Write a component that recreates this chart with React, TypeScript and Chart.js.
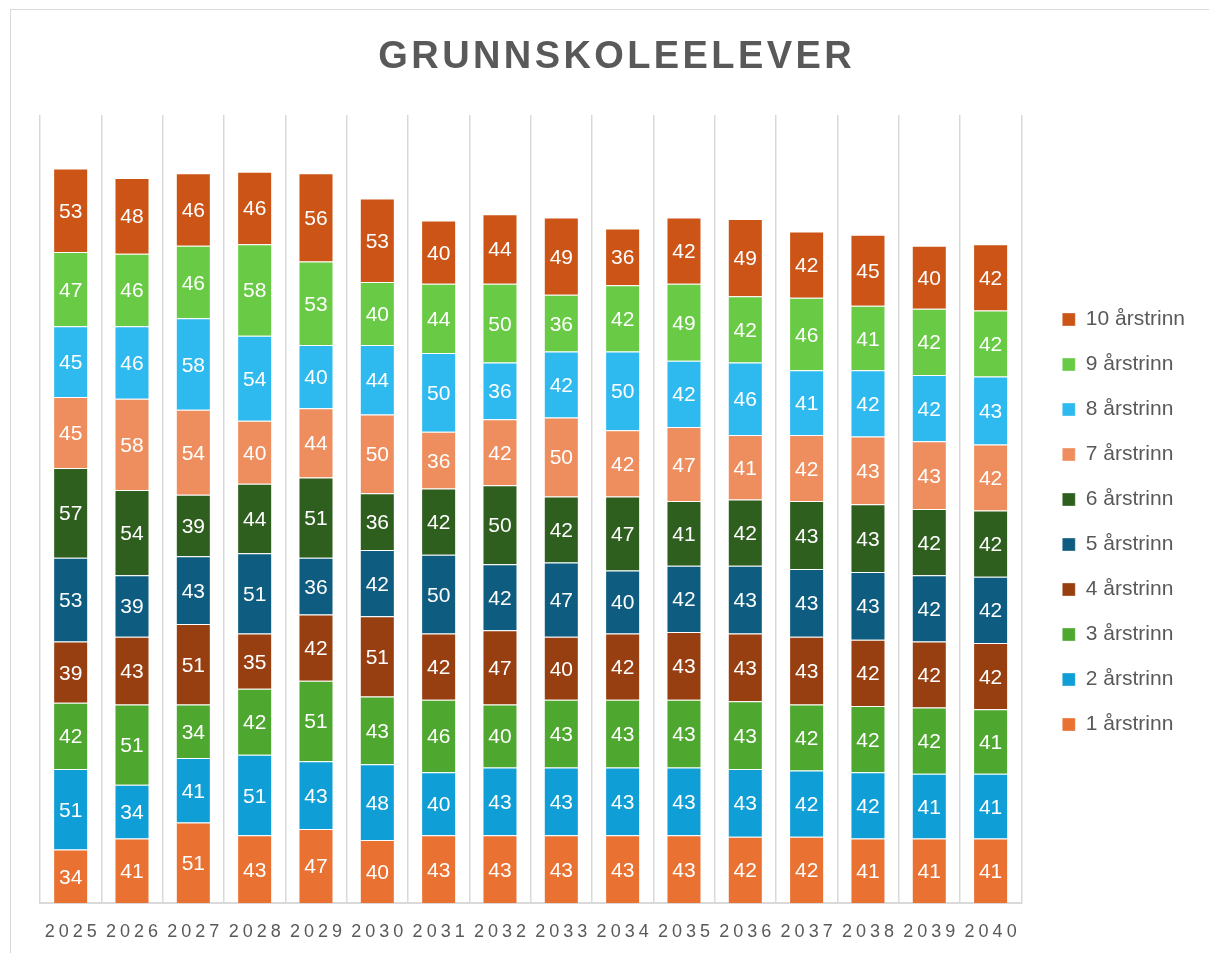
import React, { useEffect, useRef } from "react";
import { Chart, registerables } from "chart.js";

Chart.register(...registerables);

const years = ["2025","2026","2027","2028","2029","2030","2031","2032","2033","2034","2035","2036","2037","2038","2039","2040"];
const seriesNames = ["1 årstrinn","2 årstrinn","3 årstrinn","4 årstrinn","5 årstrinn","6 årstrinn","7 årstrinn","8 årstrinn","9 årstrinn","10 årstrinn"];
const trinn1 = [34,41,51,43,47,40,43,43,43,43,43,42,42,41,41,41];
const trinn2 = [51,34,41,51,43,48,40,43,43,43,43,43,42,42,41,41];
const trinn3 = [42,51,34,42,51,43,46,40,43,43,43,43,42,42,42,41];
const trinn4 = [39,43,51,35,42,51,42,47,40,42,43,43,43,42,42,42];
const trinn5 = [53,39,43,51,36,42,50,42,47,40,42,43,43,43,42,42];
const trinn6 = [57,54,39,44,51,36,42,50,42,47,41,42,43,43,42,42];
const trinn7 = [45,58,54,40,44,50,36,42,50,42,47,41,42,43,43,42];
const trinn8 = [45,46,58,54,40,44,50,36,42,50,42,46,41,42,42,43];
const trinn9 = [47,46,46,58,53,40,44,50,36,42,49,42,46,41,42,42];
const trinn10 = [53,48,46,46,56,53,40,44,49,36,42,49,42,45,40,42];
const seriesValues = [trinn1,trinn2,trinn3,trinn4,trinn5,trinn6,trinn7,trinn8,trinn9,trinn10];
const colors = ["#E97132","#0F9ED5","#4EA72E","#983F12","#0E5C7F","#2F5F1E","#EE8E5E","#2EBAEE","#69CB45","#CB5416"];
const chartTitle = "GRUNNSKOLEELEVER";

const FONT = '"Liberation Sans", Arial, sans-serif';

const decorPlugin = {
  id: "decor",
  beforeDraw(chart: any) {
    const ctx = chart.ctx;
    ctx.save();
    ctx.fillStyle = "#ffffff";
    ctx.fillRect(0, 0, chart.width, chart.height);
    ctx.strokeStyle = "#d9d9d9";
    ctx.lineWidth = 1;
    ctx.strokeRect(10.5, 9.5, 1400, 1100);
    ctx.restore();
  },
  afterDatasetsDraw(chart: any) {
    const ctx = chart.ctx;
    ctx.save();
    ctx.font = `21px ${FONT}`;
    ctx.fillStyle = "#ffffff";
    ctx.textAlign = "center";
    ctx.textBaseline = "alphabetic";
    chart.data.datasets.forEach((ds: any, i: number) => {
      const meta = chart.getDatasetMeta(i);
      meta.data.forEach((bar: any, j: number) => {
        const p = bar.getProps(["x", "y", "base"], true);
        const cy = (p.y + p.base) / 2;
        ctx.fillText(String(ds.data[j]), p.x, cy + 7.5);
      });
    });
    ctx.restore();
  },
  afterDraw(chart: any) {
    const ctx = chart.ctx;
    ctx.save();
    ctx.fillStyle = "#595959";
    ctx.textAlign = "center";
    ctx.textBaseline = "alphabetic";
    // title
    ctx.font = `bold 38px ${FONT}`;
    (ctx as any).letterSpacing = "3.4px";
    ctx.fillText(chartTitle, 615 + 1.7, 68);
    // x labels
    ctx.font = `18px ${FONT}`;
    (ctx as any).letterSpacing = "4px";
    const xs = chart.scales.x;
    years.forEach((lab, i) => {
      ctx.fillText(lab, xs.getPixelForValue(i) + 2, 937);
    });
    (ctx as any).letterSpacing = "0px";
    ctx.restore();
  },
};

export default function App() {
  const ref = useRef<HTMLCanvasElement | null>(null);
  useEffect(() => {
    if (!ref.current) return;
    const chart = new Chart(ref.current, {
      type: "bar",
      data: {
        labels: years,
        datasets: seriesNames.map((name, i) => ({
          label: name,
          data: seriesValues[i],
          backgroundColor: colors[i],
          borderColor: "rgba(255,255,255,0.35)",
          borderWidth: 1,
          barPercentage: 0.571,
          categoryPercentage: 1,
        })),
      },
      options: {
        responsive: false,
        animation: false,
        layout: { padding: { top: 115, bottom: 24, left: 40, right: 14 } },
        plugins: {
          title: { display: false },
          tooltip: { enabled: false },
          legend: {
            display: true,
            position: "right",
            reverse: true,
            labels: {
              boxWidth: 13,
              boxHeight: 13,
              padding: 24,
              color: "#595959",
              font: { family: FONT, size: 21 },
            },
          },
        },
        scales: {
          x: {
            stacked: true,
            grid: { display: true, offset: true, color: "#d9d9d9", lineWidth: 1.5, drawTicks: false },
            border: { display: true, color: "#d9d9d9", width: 2 },
            ticks: { display: false },
            afterFit: (s: any) => { s.height = 26; },
          },
          y: {
            stacked: true,
            display: false,
            min: 0,
            max: 500,
          },
          y2: {
            type: "linear",
            position: "right",
            display: true,
            grid: { display: false, drawTicks: false },
            border: { display: false },
            ticks: { display: false },
            afterFit: (s: any) => { s.width = 17; },
          },
        },
      },
      plugins: [decorPlugin],
    } as any);
    return () => chart.destroy();
  }, []);
  return (
    <div style={{ position: "absolute", left: 0, top: 0, width: 1209, height: 953, overflow: "hidden" }}>
      <canvas ref={ref} width={1209} height={953} />
    </div>
  );
}
